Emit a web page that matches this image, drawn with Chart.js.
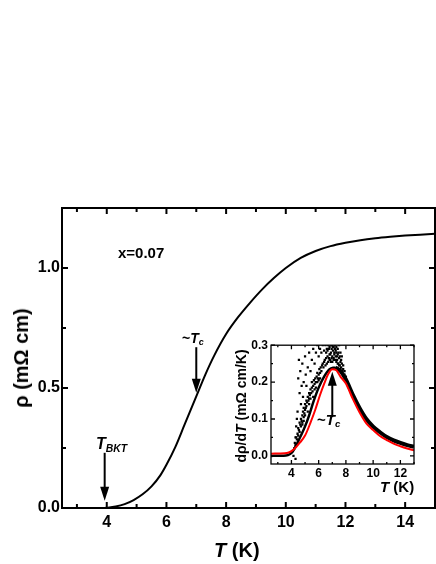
<!DOCTYPE html>
<html>
<head>
<meta charset="utf-8">
<script src="https://cdn.jsdelivr.net/npm/chart.js@4.4.0/dist/chart.umd.min.js"></script>
<style>
body { margin: 0; background: #fff; }
#wrap { position: relative; width: 436px; height: 564px; overflow: hidden;
        font-family: "Liberation Sans", Arial, sans-serif; font-weight: bold; color: #000; }
canvas { position: absolute; }
#main { left: 0; top: 0; }
#inset { left: 230px; top: 335px; }
.lbl { position: absolute; white-space: nowrap; line-height: 1; }
.lbl sub { font-size: 65%; vertical-align: -0.25em; font-style: italic; }
.rot { transform: translate(-50%, -50%) rotate(-90deg); }
</style>
</head>
<body>
<div id="wrap">
  <canvas id="main" width="436" height="564"></canvas>
  <canvas id="inset" width="190" height="150"></canvas>

  <div class="lbl" style="left:118px;top:245px;font-size:15px;">x=0.07</div>
  <div class="lbl" style="left:182px;top:331px;font-size:14px;">~<i>T</i><sub>c</sub></div>
  <div class="lbl" style="left:96px;top:436px;font-size:16px;"><i>T</i><sub>BKT</sub></div>
  <div class="lbl" style="left:317px;top:412px;font-size:15px;">~<i>T</i><sub>c</sub></div>

  <div class="lbl rot" style="left:21px;top:358px;font-size:20px;">ρ (mΩ cm)</div>
  <div class="lbl" style="left:214px;top:540px;font-size:20px;"><i>T</i> (K)</div>

  <div class="lbl rot" style="left:241px;top:406px;font-size:14px;">dρ/d<i>T</i> (mΩ cm/K)</div>
  <div class="lbl" style="left:380px;top:479px;font-size:15px;"><i>T</i> (K)</div>
</div>

<script>
// ---- main panel: resistivity vs temperature ----
const tempK = [2.5, 3.5, 3.9, 4.0, 4.3, 4.6, 4.9, 5.2, 5.5, 5.8, 6.0, 6.3, 6.6, 7.0, 7.3, 7.6, 8.0, 8.4, 8.8, 9.2, 9.6, 10.0, 10.5, 11.0, 11.5, 12.0, 12.5, 13.0, 13.5, 14.0, 14.5, 15.0];
const rho = [0, 0, 0, 0.001, 0.006, 0.016, 0.033, 0.057, 0.09, 0.137, 0.18, 0.255, 0.345, 0.465, 0.555, 0.635, 0.725, 0.795, 0.855, 0.91, 0.958, 1.0, 1.042, 1.071, 1.091, 1.105, 1.116, 1.124, 1.13, 1.135, 1.139, 1.143];

const mainXTicks = [4, 6, 8, 10, 12, 14];
const mainXMinor = [3, 5, 7, 9, 11, 13];
const mainYTicks = [0, 0.5, 1.0];
const mainYMinor = [0.25, 0.75];

// ---- inset: derivative, raw points and fit ----
// dense band of measured points, rising side (thinner) and falling side
const riseT = [2.5, 3.6, 3.9, 4.1, 4.3, 4.5, 4.7, 5.0, 5.3, 5.6, 6.0, 6.4, 6.8, 7.2];
const riseV = [0.0, 0.001, 0.005, 0.012, 0.025, 0.04, 0.055, 0.08, 0.11, 0.145, 0.185, 0.215, 0.235, 0.24];
const fallT = [7.2, 7.6, 8.0, 8.5, 9.0, 9.5, 10.0, 10.5, 11.0, 11.5, 12.0, 12.5, 13.0];
const fallV = [0.24, 0.23, 0.207, 0.166, 0.13, 0.1, 0.079, 0.064, 0.051, 0.042, 0.035, 0.029, 0.025];
// scattered points around the transition
const noiseT = [4.2, 4.25, 4.3, 4.35, 4.4, 4.45, 4.5, 4.5, 4.55, 4.6, 4.6, 4.65, 4.7, 4.7, 4.75, 4.8, 4.8, 4.85, 4.9, 4.9, 4.95, 5.0, 5.0, 5.05, 5.1, 5.1, 5.15, 5.2, 5.25, 5.3, 5.3, 5.35, 5.4, 5.45, 5.5, 5.5, 5.55, 5.6, 5.65, 5.7, 5.75, 5.8, 5.85, 5.9, 5.95, 6.0, 6.05, 6.1, 6.15, 6.2, 6.25, 6.3, 6.35, 6.4, 6.45, 6.5, 6.55, 6.6, 6.65, 6.7, 6.75, 6.8, 6.85, 6.9, 6.95, 7.0, 7.05, 7.1, 7.15, 7.2, 7.25, 7.3, 7.35, 7.4, 7.45, 7.5, 7.55, 7.6, 7.65, 7.7, 7.75, 7.8, 7.9, 8.0, 8.1,
  4.5, 4.55, 4.6, 4.65, 4.7, 4.75, 4.8, 4.85, 4.9, 5.0, 5.05, 5.1, 5.2, 5.3, 5.4, 5.5, 5.6, 5.7, 5.8, 5.9, 6.0, 6.1, 6.2, 6.3, 6.4, 6.5, 6.6, 6.7, 6.8, 6.9, 7.0, 7.1, 7.2, 7.3, 7.4, 7.5, 7.6, 7.7, 4.4, 4.35, 4.45, 4.3, 4.15, 4.3,
  6.55, 6.65, 6.75, 6.85, 6.95, 7.05, 7.15, 7.25, 7.35, 7.45, 7.55, 7.65, 7.0, 7.1, 7.2, 7.3, 7.4, 7.5, 6.9, 6.8, 7.6, 7.7, 7.8, 7.9, 5.6, 5.7, 5.8, 5.9, 6.0, 6.1, 5.2, 5.3, 5.4, 5.0, 4.9, 4.8];
const noiseV = [0.02, 0.035, 0.03, 0.05, 0.045, 0.06, 0.055, 0.075, 0.07, 0.09, 0.065, 0.085, 0.1, 0.08, 0.095, 0.11, 0.09, 0.12, 0.105, 0.13, 0.115, 0.125, 0.14, 0.13, 0.15, 0.135, 0.145, 0.16, 0.15, 0.17, 0.155, 0.165, 0.18, 0.17, 0.185, 0.2, 0.175, 0.19, 0.205, 0.195, 0.21, 0.2, 0.215, 0.225, 0.21, 0.22, 0.235, 0.225, 0.24, 0.23, 0.245, 0.25, 0.24, 0.255, 0.26, 0.245, 0.265, 0.25, 0.27, 0.255, 0.265, 0.275, 0.26, 0.28, 0.265, 0.27, 0.285, 0.26, 0.275, 0.29, 0.27, 0.28, 0.26, 0.275, 0.25, 0.265, 0.245, 0.255, 0.24, 0.25, 0.23, 0.235, 0.22, 0.215, 0.2,
  0.21, 0.26, 0.17, 0.23, 0.14, 0.19, 0.25, 0.16, 0.2, 0.27, 0.22, 0.19, 0.24, 0.28, 0.23, 0.26, 0.29, 0.25, 0.28, 0.3, 0.27, 0.29, 0.28, 0.3, 0.285, 0.3, 0.29, 0.3, 0.295, 0.3, 0.3, 0.295, 0.3, 0.295, 0.29, 0.3, 0.28, 0.27, 0.1, 0.08, 0.12, 0.05, 0.0, -0.008,
  0.28, 0.285, 0.29, 0.275, 0.29, 0.295, 0.28, 0.285, 0.27, 0.28, 0.27, 0.26, 0.255, 0.265, 0.26, 0.255, 0.25, 0.245, 0.255, 0.26, 0.235, 0.225, 0.245, 0.23, 0.16, 0.18, 0.185, 0.2, 0.205, 0.21, 0.12, 0.14, 0.155, 0.11, 0.095, 0.085];
// red fit curve
const fitT = [2.5, 3.5, 3.8, 4.0, 4.3, 4.6, 5.0, 5.4, 5.75, 6.1, 6.4, 6.7, 7.0, 7.3, 7.6, 8.0, 8.5, 9.0, 9.5, 10.0, 10.5, 11.0, 11.5, 12.0, 12.5, 13.0];
const fitV = [0.006, 0.007, 0.009, 0.013, 0.022, 0.035, 0.055, 0.09, 0.125, 0.165, 0.195, 0.222, 0.235, 0.232, 0.215, 0.196, 0.155, 0.118, 0.088, 0.07, 0.054, 0.043, 0.033, 0.026, 0.02, 0.015];

const insetXTicks = [4, 6, 8, 10, 12];
const insetXMinor = [3, 5, 7, 9, 11, 13];
const insetYTicks = [0, 0.1, 0.2, 0.3];
const insetYMinor = [0.05, 0.15, 0.25];

function pts(xs, ys) {
  return xs.map((x, i) => ({ x: x, y: ys[i] }));
}

// frame round the plot area with inward ticks on all four sides
const frameTicks = {
  id: 'frameTicks',
  afterDraw(chart, args, o) {
    const { ctx, chartArea: a, scales: { x, y } } = chart;
    ctx.save();
    ctx.strokeStyle = '#000';
    ctx.lineWidth = o.width;
    ctx.beginPath();
    const tick = (vals, len) => {
      vals.forEach(v => {
        const px = x.getPixelForValue(v);
        ctx.moveTo(px, a.bottom); ctx.lineTo(px, a.bottom - len);
        ctx.moveTo(px, a.top); ctx.lineTo(px, a.top + len);
      });
    };
    const tickY = (vals, len) => {
      vals.forEach(v => {
        const py = y.getPixelForValue(v);
        ctx.moveTo(a.left, py); ctx.lineTo(a.left + len, py);
        ctx.moveTo(a.right, py); ctx.lineTo(a.right - len, py);
      });
    };
    tick(o.xMajor, o.major); tick(o.xMinor, o.minor);
    tickY(o.yMajor, o.major); tickY(o.yMinor, o.minor);
    ctx.stroke();
    ctx.strokeRect(a.left, a.top, a.right - a.left, a.bottom - a.top);
    ctx.restore();
  }
};

// vertical arrows pointing at a temperature
const arrows = {
  id: 'arrows',
  afterDatasetsDraw(chart, args, o) {
    const { ctx, scales: { x, y } } = chart;
    ctx.save();
    ctx.strokeStyle = '#000';
    ctx.fillStyle = '#000';
    ctx.lineWidth = 2;
    o.list.forEach(ar => {
      const px = x.getPixelForValue(ar.x);
      const y0 = y.getPixelForValue(ar.from);
      const y1 = y.getPixelForValue(ar.to);
      const dir = y1 > y0 ? 1 : -1;
      ctx.beginPath();
      ctx.moveTo(px, y0);
      ctx.lineTo(px, y1 - dir * 10);
      ctx.stroke();
      ctx.beginPath();
      ctx.moveTo(px, y1);
      ctx.lineTo(px - 4.5, y1 - dir * 14);
      ctx.lineTo(px + 4.5, y1 - dir * 14);
      ctx.closePath();
      ctx.fill();
    });
    ctx.restore();
  }
};

function tickSetter(list) {
  return s => { s.ticks = list.map(v => ({ value: v })); };
}

new Chart(document.getElementById('main'), {
  type: 'scatter',
  data: {
    datasets: [{
      data: pts(tempK, rho),
      showLine: true,
      borderColor: '#000',
      borderWidth: 2,
      pointRadius: 0,
      cubicInterpolationMode: 'monotone'
    }]
  },
  options: {
    responsive: false,
    animation: false,
    events: [],
    layout: { padding: { top: 208, right: 1, left: 0, bottom: 0 } },
    plugins: {
      legend: { display: false },
      tooltip: { enabled: false },
      frameTicks: { width: 2, major: 6, minor: 4, xMajor: mainXTicks, xMinor: mainXMinor, yMajor: mainYTicks, yMinor: mainYMinor },
      arrows: { list: [{ x: 7, from: 0.67, to: 0.48 }, { x: 3.93, from: 0.23, to: 0.03 }] }
    },
    scales: {
      x: {
        type: 'linear', min: 2.5, max: 15,
        afterBuildTicks: tickSetter(mainXTicks),
        afterFit: s => { s.height = 56; },
        grid: { display: false, drawTicks: false }, border: { display: false },
        ticks: { color: '#000', font: { family: 'Liberation Sans', size: 16, weight: 'bold' }, padding: 5, maxRotation: 0, autoSkip: false, callback: v => String(v) }
      },
      y: {
        type: 'linear', min: 0, max: 1.25,
        afterBuildTicks: tickSetter(mainYTicks),
        afterFit: s => { s.width = 62; },
        grid: { display: false, drawTicks: false }, border: { display: false },
        ticks: { color: '#000', font: { family: 'Liberation Sans', size: 16, weight: 'bold' }, padding: 2, autoSkip: false, callback: v => v.toFixed(1) }
      }
    }
  },
  plugins: [frameTicks, arrows]
});

new Chart(document.getElementById('inset'), {
  type: 'scatter',
  data: {
    datasets: [
      { data: pts(fitT, fitV), showLine: true, borderColor: '#ff0000', borderWidth: 2, pointRadius: 0, cubicInterpolationMode: 'monotone', order: 0 },
      { data: pts(fallT, fallV), showLine: true, borderColor: '#000', borderWidth: 4, pointRadius: 0, cubicInterpolationMode: 'monotone', order: 1 },
      { data: pts(riseT, riseV), showLine: true, borderColor: '#000', borderWidth: 2.5, pointRadius: 0, cubicInterpolationMode: 'monotone', order: 1 },
      { data: pts(noiseT, noiseV), showLine: false, backgroundColor: '#000', borderWidth: 0, pointStyle: 'rect', pointRadius: 1.6, order: 2 }
    ]
  },
  options: {
    responsive: false,
    animation: false,
    events: [],
    layout: { padding: { top: 7, right: 6, left: 0, bottom: 0 } },
    plugins: {
      legend: { display: false },
      tooltip: { enabled: false },
      frameTicks: { width: 1.3, major: 4, minor: 2, xMajor: insetXTicks, xMinor: insetXMinor, yMajor: insetYTicks, yMinor: insetYMinor },
      arrows: { list: [{ x: 7, from: 0.105, to: 0.228 }] }
    },
    scales: {
      x: {
        type: 'linear', min: 2.5, max: 13,
        afterBuildTicks: tickSetter(insetXTicks),
        afterFit: s => { s.height = 21; },
        grid: { display: false, drawTicks: false }, border: { display: false },
        ticks: { color: '#000', font: { family: 'Liberation Sans', size: 12, weight: 'bold' }, padding: 2, maxRotation: 0, autoSkip: false, callback: v => String(v) }
      },
      y: {
        type: 'linear', min: -0.022, max: 0.3,
        afterBuildTicks: tickSetter(insetYTicks),
        afterFit: s => { s.width = 41; },
        grid: { display: false, drawTicks: false }, border: { display: false },
        ticks: { color: '#000', font: { family: 'Liberation Sans', size: 12, weight: 'bold' }, padding: 3, autoSkip: false, callback: v => v.toFixed(1) }
      }
    }
  },
  plugins: [frameTicks, arrows]
});
</script>
</body>
</html>
